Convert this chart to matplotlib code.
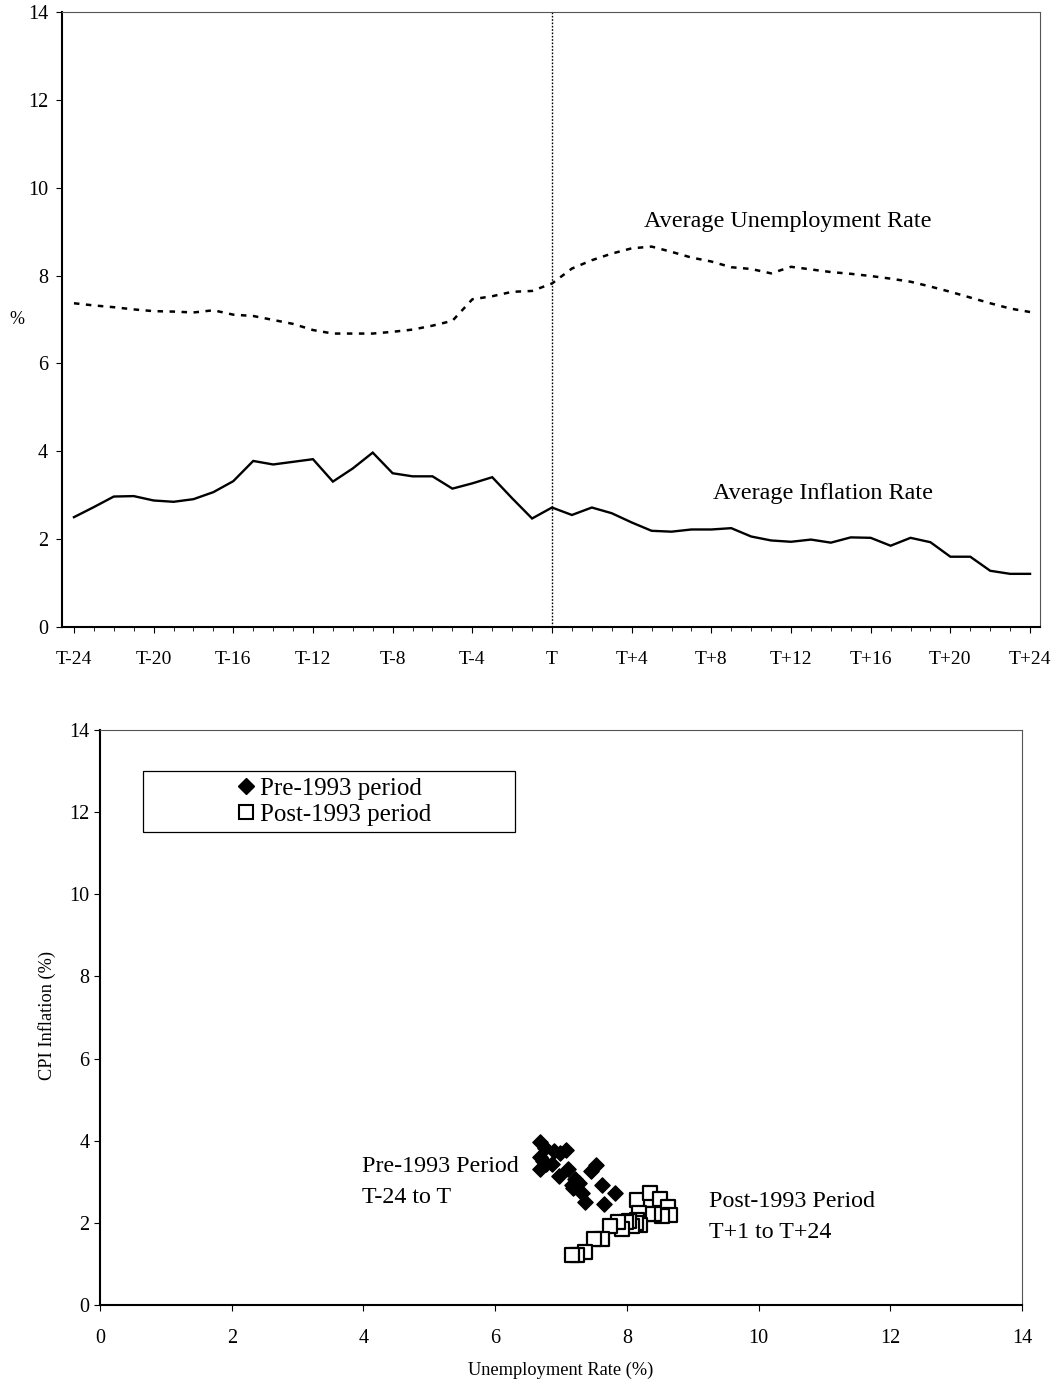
import matplotlib
matplotlib.use("Agg")
import matplotlib.pyplot as plt
import numpy as np
from matplotlib.patches import Rectangle
from matplotlib.lines import Line2D
from matplotlib.ticker import MultipleLocator

plt.rcParams['font.family'] = ['Liberation Serif', 'DejaVu Serif']

periods = list(range(-24, 25))
tick_positions = list(range(-24, 25, 4))
tick_labels = ["T-24", "T-20", "T-16", "T-12", "T-8", "T-4", "T",
               "T+4", "T+8", "T+12", "T+16", "T+20", "T+24"]

inflation = [2.50, 2.73, 2.97, 2.98, 2.88, 2.85, 2.91, 3.07, 3.32, 3.78,
             3.70, 3.76, 3.82, 3.31, 3.61, 3.97, 3.50, 3.43, 3.43, 3.15,
             3.27, 3.41, 2.93, 2.47, 2.72,
             2.55, 2.72, 2.59, 2.38, 2.19, 2.17, 2.22, 2.22, 2.25, 2.06,
             1.97, 1.94, 1.99, 1.92, 2.04, 2.03, 1.85, 2.03, 1.93, 1.60,
             1.60, 1.28, 1.21, 1.21]

unemployment = [7.37, 7.32, 7.28, 7.23, 7.19, 7.18, 7.16, 7.21, 7.11, 7.08,
                6.99, 6.90, 6.76, 6.68, 6.68, 6.68, 6.72, 6.77, 6.86, 6.97,
                7.46, 7.53, 7.63, 7.65, 7.82,
                8.16, 8.35, 8.50, 8.62, 8.66, 8.54, 8.41, 8.32, 8.19, 8.15,
                8.05, 8.20, 8.14, 8.08, 8.04, 7.99, 7.93, 7.86, 7.75, 7.63,
                7.50, 7.37, 7.25, 7.17]

W, H = 1056, 1382
fig = plt.figure(figsize=(W / 100, H / 100), dpi=100)

# ---------------- Top panel ----------------
ax1 = fig.add_axes([62 / W, 1 - 627 / H, 978 / W, 615 / H])
ax1.plot(periods, inflation, color='black', lw=1.7, solid_joinstyle='miter')
ax1.plot(periods, unemployment, color='black', lw=1.8, dashes=(2.2, 2.6))
ax1.axvline(0, color='black', lw=1.0, ls=(0, (1.2, 1.2)))
ax1.set_xlim(-24.6, 24.5)
ax1.set_ylim(0, 14)
ax1.set_xticks(tick_positions)
ax1.set_xticklabels(tick_labels, fontsize=14)
ax1.xaxis.set_minor_locator(MultipleLocator(1))
ax1.set_yticks(range(0, 15, 2))
ax1.tick_params(axis='y', labelsize=14.5, direction='out', length=4, width=0.8, pad=6)
ax1.tick_params(axis='x', which='major', direction='out', length=4, width=0.8, pad=13)
ax1.tick_params(axis='x', which='minor', direction='out', length=3, width=0.6)
ax1.set_ylabel('%', fontsize=13, rotation=0, va='center', ha='center')
ax1.yaxis.set_label_coords((17 - 62) / 978, (627 - 320) / 615)
for s in ['left', 'bottom']:
    ax1.spines[s].set_linewidth(1.5)
for s in ['top', 'right']:
    ax1.spines[s].set_linewidth(0.8)
    ax1.spines[s].set_color('#555555')
ax1.text(4.6, 9.24, 'Average Unemployment Rate', fontsize=17.4, va='center', ha='left')
ax1.text(8.1, 3.03, 'Average Inflation Rate', fontsize=17.4, va='center', ha='left')

# ---------------- Bottom panel ----------------
ax2 = fig.add_axes([100 / W, 1 - 1305 / H, 922 / W, 575 / H])
pre_u, pre_i = unemployment[:25], inflation[:25]
post_u, post_i = unemployment[25:], inflation[25:]
ax2.scatter(pre_u, pre_i, marker='D', s=60, color='black', zorder=3)
ax2.scatter(post_u, post_i, marker='s', s=105, facecolors='white',
            edgecolors='black', linewidths=1.6, zorder=2)
ax2.set_xlim(0, 14)
ax2.set_ylim(0, 14)
ax2.set_xticks(range(0, 15, 2))
ax2.set_yticks(range(0, 15, 2))
ax2.tick_params(labelsize=14.5, direction='out', length=4, width=0.8)
ax2.tick_params(axis='x', pad=13)
ax2.set_xlabel('Unemployment Rate (%)', fontsize=13.2, labelpad=10)
ax2.set_ylabel('CPI Inflation (%)', fontsize=13.2, va='center', ha='center')
ax2.yaxis.set_label_coords((47 - 100) / 922, (1305 - 1015) / 575)
for s in ['left', 'bottom']:
    ax2.spines[s].set_linewidth(1.5)
for s in ['top', 'right']:
    ax2.spines[s].set_linewidth(0.8)
    ax2.spines[s].set_color('#555555')

ax2.text(3.98, 2.995, 'Pre-1993 Period\nT-24 to T', fontsize=17.3, va='center',
         ha='left', linespacing=1.6)
ax2.text(9.25, 2.14, 'Post-1993 Period\nT+1 to T+24', fontsize=17.3, va='center',
         ha='left', linespacing=1.6)

# legend box
bx0, bx1 = (143 - 100) / 922, (515 - 100) / 922
by0, by1 = (1305 - 832) / 575, (1305 - 771) / 575
ax2.add_patch(Rectangle((bx0, by0), bx1 - bx0, by1 - by0, transform=ax2.transAxes,
                        facecolor='white', edgecolor='black', lw=0.9, zorder=4))
handles = [Line2D([], [], marker='D', color='black', ls='none', markersize=8),
           Line2D([], [], marker='s', markerfacecolor='white', markeredgecolor='black',
                  markeredgewidth=1.5, ls='none', markersize=10)]
leg = ax2.legend(handles, ['Pre-1993 period', 'Post-1993 period'],
                 loc='center', bbox_to_anchor=((bx0 + bx1) / 2 + 0.004, (by0 + by1) / 2),
                 bbox_transform=ax2.transAxes, frameon=False, fontsize=18,
                 handletextpad=0.1, handlelength=0.9, labelspacing=0.15,
                 borderpad=0)
leg.set_zorder(5)

fig.savefig('out.png', dpi=100)
